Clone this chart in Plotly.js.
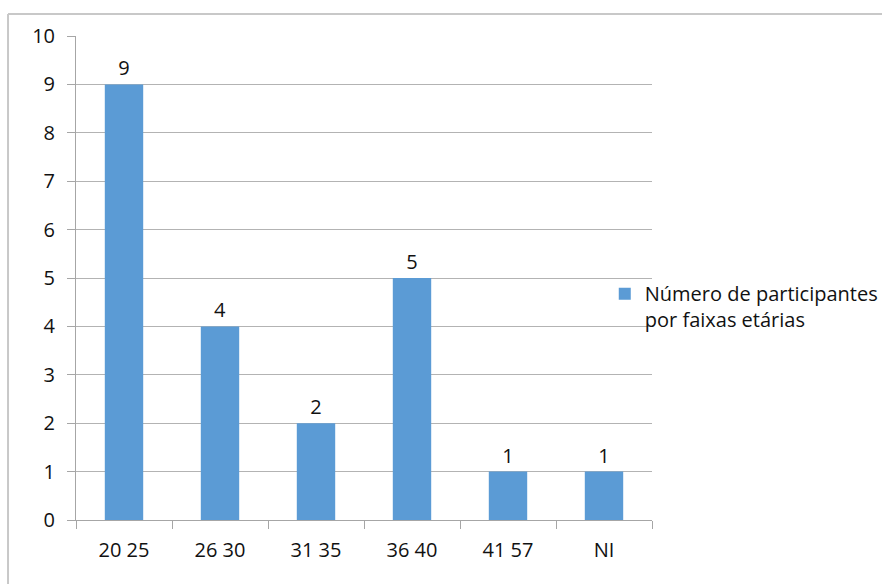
<!DOCTYPE html>
<html><head><meta charset="utf-8">
<script src="https://cdn.plot.ly/plotly-3.0.1.min.js"></script>
<style>html,body{margin:0;padding:0;background:#fff}#c{width:882px;height:584px}</style>
</head><body><div id="c"></div>
<script>
const categories = ["20 25", "26 30", "31 35", "36 40", "41 57", "NI"];
const values = [9, 4, 2, 5, 1, 1];
const seriesName = "Número de participantes<br>por faixas etárias";
const yTicks = [0,1,2,3,4,5,6,7,8,9,10];

const font = {family: "Open Sans, DejaVu Sans, sans-serif", size: 20, color: "#111"};
const trace = {
  type: "bar", x: categories, y: values, name: seriesName,
  marker: {color: "#5b9bd5"},
  text: values.map(String), textposition: "outside", cliponaxis: false,
  textfont: font, hoverinfo: "none"
};
const layout = {
  width: 882, height: 584,
  margin: {l: 76, r: 230, t: 36, b: 64, autoexpand: false},
  paper_bgcolor: "#fff", plot_bgcolor: "#fff",
  font: font,
  bargap: 0.6,
  showlegend: true,
  legend: {x: 0.918, y: 0.508, xanchor: "left", yanchor: "top", valign: "top",
           font: font, bgcolor: "rgba(0,0,0,0)", itemclick: false, tracegroupgap: 0},
  xaxis: {type: "category", tickson: "boundaries", ticks: "outside", ticklen: 8,
          tickcolor: "#a6a6a6", showline: true, linecolor: "#a6a6a6", linewidth: 1,
          showgrid: false, tickfont: font, ticklabelstandoff: 12, automargin: false, fixedrange: true},
  yaxis: {range: [0, 10], tickvals: yTicks, ticks: "outside", ticklen: 8,
          tickcolor: "#a6a6a6", showline: true, linecolor: "#a6a6a6",
          gridcolor: "#b3b3b3", zeroline: false, tickfont: font, ticklabelstandoff: 8, automargin: false, fixedrange: true},
  shapes: [
    {type: "line", xref: "paper", yref: "paper", x0: -0.118, x1: 1.6, y0: 1.0455, y1: 1.0455,
     line: {color: "#c8c8c8", width: 2}},
    {type: "line", xref: "paper", yref: "paper", x0: -0.118, x1: -0.118, y0: 1.0455, y1: -0.3,
     line: {color: "#c8c8c8", width: 2}}
  ]
};
Plotly.newPlot("c", [trace], layout, {staticPlot: true});
</script></body></html>
